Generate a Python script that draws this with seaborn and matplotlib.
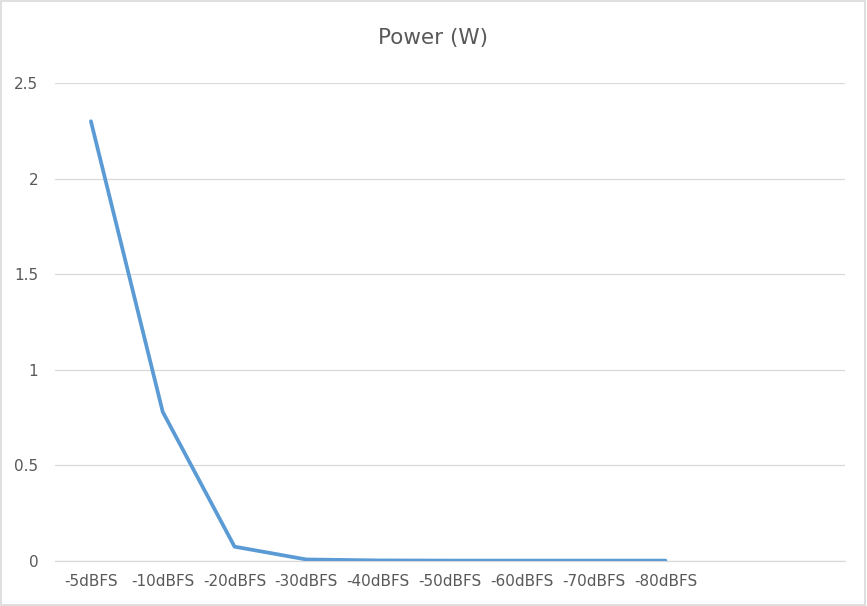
import matplotlib
matplotlib.use("Agg")
import matplotlib.pyplot as plt
import seaborn as sns
import pandas as pd

# categories (last two slots are empty in the original sheet)
levels = ["-5dBFS", "-10dBFS", "-20dBFS", "-30dBFS", "-40dBFS",
          "-50dBFS", "-60dBFS", "-70dBFS", "-80dBFS", "", ""]
power_w = [2.3, 0.78, 0.075, 0.008, 0.003, 0.002, 0.002, 0.002, 0.002]
y_ticks = [0, 0.5, 1, 1.5, 2, 2.5]
y_tick_labels = ["0", "0.5", "1", "1.5", "2", "2.5"]

df = pd.DataFrame({"idx": range(len(power_w)), "power": power_w})

sns.set_style("white")
plt.rcParams["font.family"] = ["DejaVu Sans"]

fig = plt.figure(figsize=(8.67, 6.06), dpi=100)
ax = fig.add_axes([55 / 867, 45 / 606, 790 / 867, 478 / 606])

ax.yaxis.grid(True, color="#D9D9D9", linewidth=0.9)
ax.xaxis.grid(False)
ax.set_axisbelow(True)
ax.axhline(0, color="#D9D9D9", linewidth=0.9, clip_on=False, zorder=0.5)

sns.lineplot(data=df, x="idx", y="power", ax=ax, color="#5B9BD5", linewidth=2.7)

ax.set_xlim(-0.5, len(levels) - 0.5)
ax.set_ylim(0, 2.5)
ax.set_yticks(y_ticks)
ax.set_yticklabels(y_tick_labels)
ax.set_xticks(range(len(levels)))
ax.set_xticklabels(levels)
ax.tick_params(axis="both", length=0, labelsize=11, colors="#595959")
ax.tick_params(axis="y", pad=12)
ax.tick_params(axis="x", pad=9)
for s in ax.spines.values():
    s.set_visible(False)
ax.set_xlabel("")
ax.set_ylabel("")

fig.text(0.5, (606 - 38) / 606, "Power (W)", ha="center", va="center",
         fontsize=15.5, color="#595959")

# outer chart border
fig.patches.append(plt.Rectangle((0.001, 0.001), 0.997, 0.997, transform=fig.transFigure,
                                 fill=False, edgecolor="#D9D9D9", linewidth=1.2))

fig.savefig("out.png", dpi=100)
